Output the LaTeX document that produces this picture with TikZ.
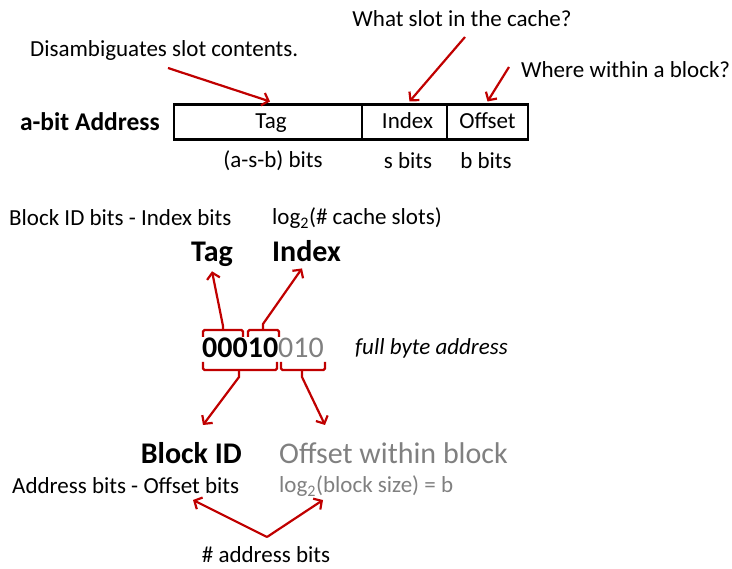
\documentclass[tikz,border=0pt]{standalone}
\usepackage{fontspec}
\setmainfont{Carlito}
\usetikzlibrary{arrows.meta,positioning,calc}

\definecolor{slidered}{RGB}{192,0,0}
\definecolor{lowgray}{RGB}{128,128,128}

\begin{document}
\begin{tikzpicture}[
  x=1pt,y=-1pt,
  txt/.style={font=\fontsize{23}{27}\selectfont, inner sep=0pt},
  big/.style={font=\fontsize{30}{34}\selectfont\bfseries, inner sep=0pt},
  field/.style={draw=black, line width=2.2pt, minimum height=35pt, inner sep=0pt, outer sep=0pt,
    text height=17pt, text depth=3pt, font=\fontsize{23}{27}\selectfont},
  ptr/.style={draw=slidered, line width=2.2pt, -{Straight Barb[length=6pt,width=13pt]}},
  bkt/.style={draw=slidered, line width=2.2pt, rounded corners=1.5pt},
]
\useasboundingbox (0,0) rectangle (732,569);

% the address and its three fields
\node[field, minimum width=188pt] (tagf) at (268,122) {\hspace{6pt}Tag};
\node[field, minimum width=85pt, right=0pt of tagf] (indf) {\hspace{6pt}Index};
\node[field, minimum width=81pt, right=0pt of indf] (offf) {Offset};
\node[txt, font=\fontsize{25.5}{29}\selectfont\bfseries, anchor=east] (addr) at (160,122) {a-bit Address};

\node[txt] (tagbits) at (273,161) {(a-s-b) bits};
\node[txt] (indbits) at (408,161) {s bits};
\node[txt] (offbits) at (486,161) {b bits};

% what each field is for
\node[txt, anchor=west] (disamb) at (30,50) {Disambiguates slot contents.};
\node[txt] (whatslot) at (462,19) {What slot in the cache?};
\node[txt, anchor=west] (where) at (521,70) {Where within a block?};
\coordinate (disfrom) at (168,68);
\coordinate (slotfrom) at (465,37);
\coordinate (wherefrom) at (509,67);
\draw[ptr] (disfrom) -- ([xshift=2pt,yshift=3pt]tagf.north);
\draw[ptr] (slotfrom) -- ([xshift=5pt,yshift=3pt]indf.north);
\draw[ptr] (wherefrom) -- ([yshift=3pt]offf.north);

% byte address example
\node[txt, anchor=west] (bidtxt) at (9,218) {Block ID bits - Index bits};
\node[txt, anchor=west] (logslots) at (272,218) {log\textsubscript{2}(\# cache slots)};
\node[big, anchor=base] (tagl) at (212,262) {Tag};
\node[big, anchor=base west] (indl) at (272,262) {Index};

\node[inner sep=0pt, anchor=west, font=\fontsize{30}{34}\selectfont] (bits) at (202,348)
  {\textbf{00010}\textcolor{lowgray}{010}};
\node[txt, font=\fontsize{23}{27}\selectfont\itshape, anchor=west] (full) at (355,348) {full byte address};

% brackets over and under the bits
\draw[bkt] (203,337) -- (203,330) -- (243,330) -- (243,337);
\draw[bkt] (248,337) -- (248,330) -- (279,330) -- (279,337);
\draw[bkt] (203,362) -- (203,370) -- (277,370) -- (277,362);
\draw[bkt] (281,362) -- (281,370) -- (325,370) -- (325,362);
\coordinate (tagup) at (223,330);
\coordinate (indup) at (263,330);
\coordinate (blkdn) at (239,370);
\coordinate (offdn) at (302,370);
\draw[ptr] (tagup) -- ++(0,-4) -- ([yshift=-4pt]tagl.south);
\draw[ptr] (indup) -- ++(0,-6) -- ([xshift=30pt,yshift=-6pt]indl.south west);
\draw[ptr] (blkdn) -- ++(0,7) -- (203,425);
\draw[ptr] (offdn) -- ++(0,7) -- (325,425);

% block id and offset
\node[big, anchor=east] (blkid) at (242,453) {Block ID};
\node[txt, font=\fontsize{30}{34}\selectfont, text=lowgray, anchor=west] (offin) at (279,453) {Offset within block};
\node[txt, anchor=west] (addrbits) at (12,486) {Address bits - Offset bits};
\node[txt, text=lowgray, anchor=west] (logblk) at (279,486) {log\textsubscript{2}(block size) = b};

\node[txt] (nbits) at (266,555) {\# address bits};
\coordinate (apex) at (267,537);
\draw[ptr] (apex) -- (193,500);
\draw[ptr] (apex) -- (323,500);
\end{tikzpicture}
\end{document}
